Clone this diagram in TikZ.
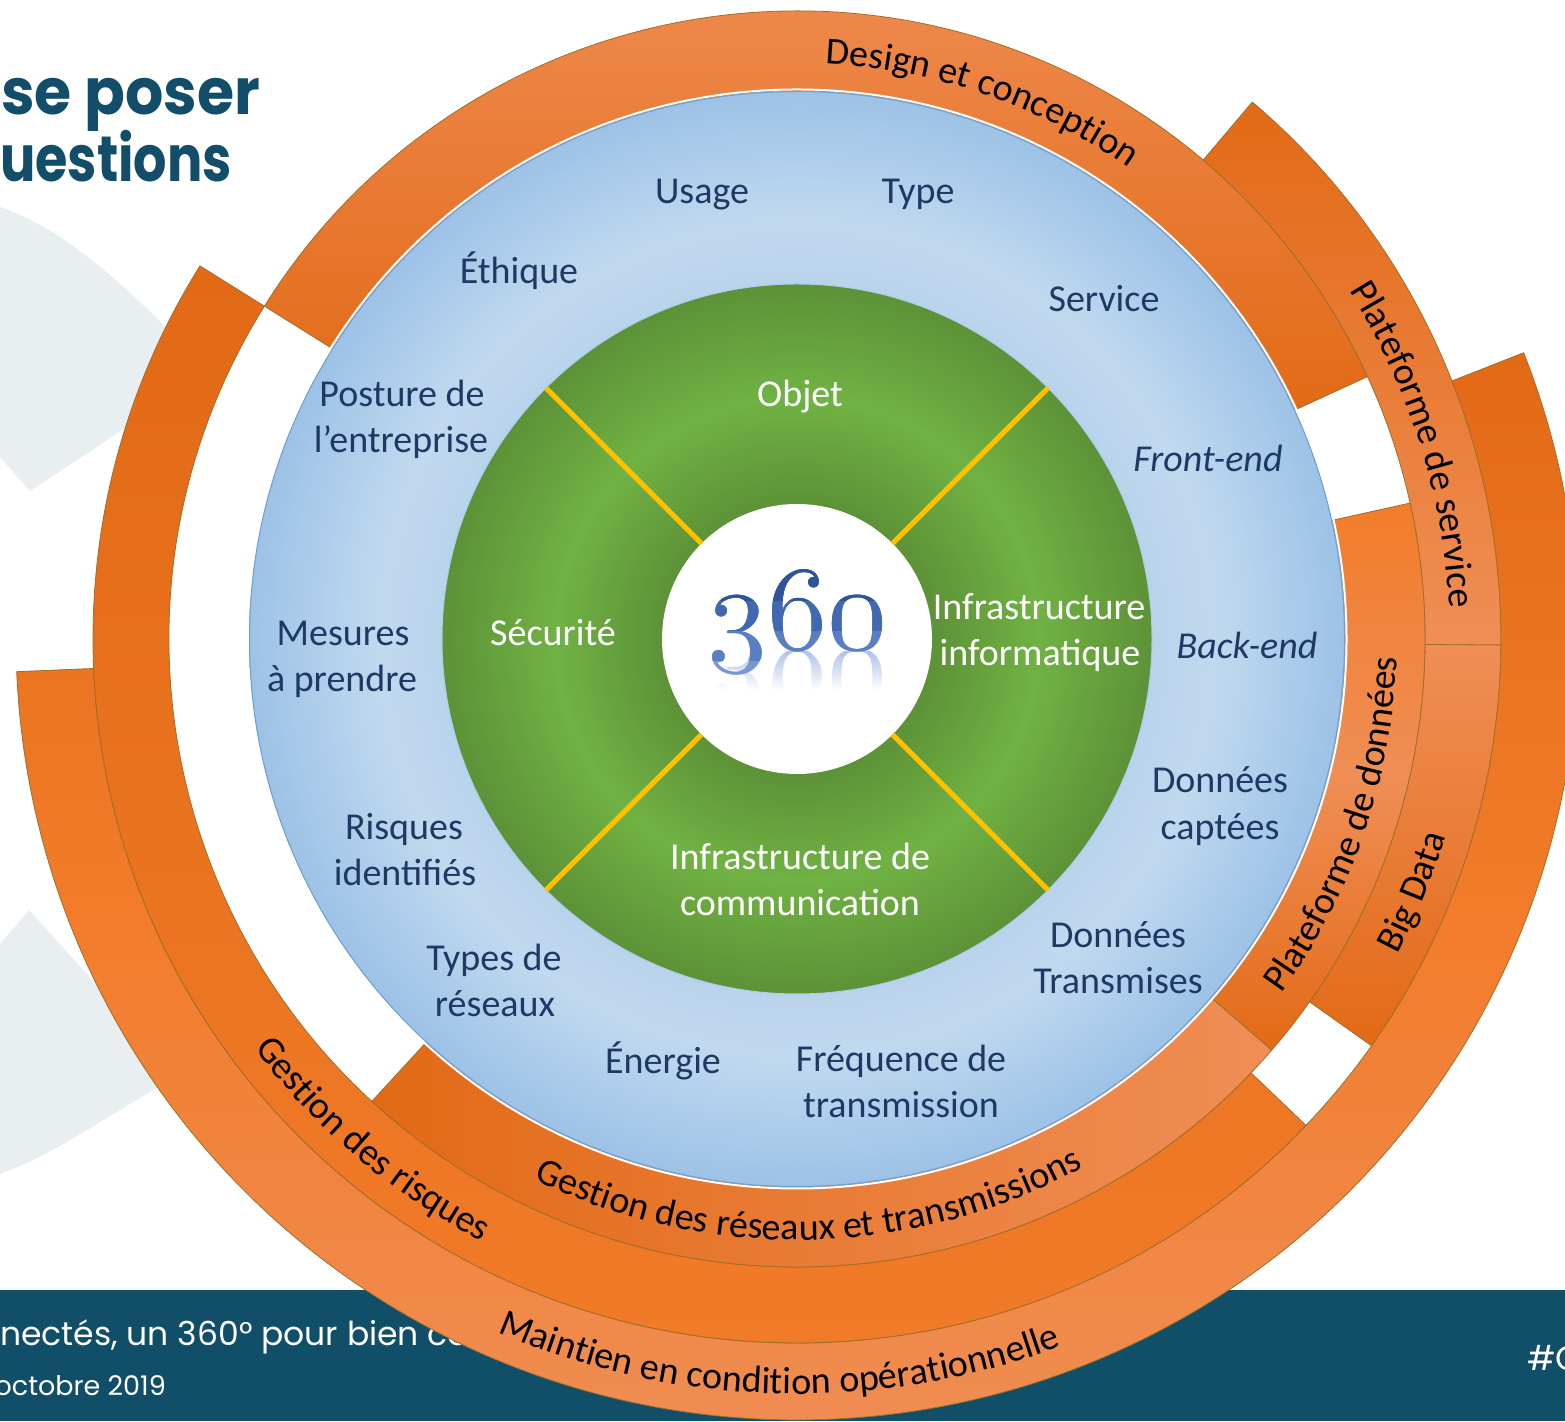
\documentclass[tikz,border=0pt]{standalone}
\usepackage{fontspec}
\newfontfamily\calib{Carlito}
\newfontfamily\popp{Poppins}
\usetikzlibrary{decorations.text,fadings}
\definecolor{od}{RGB}{226,106,22}
\definecolor{om}{RGB}{242,124,42}
\definecolor{ol}{RGB}{240,142,86}
\definecolor{bandline}{RGB}{160,110,40}
\definecolor{blueout}{RGB}{157,194,230}
\definecolor{bluein}{RGB}{185,211,236}
\definecolor{bluemid}{RGB}{193,217,239}
\definecolor{blueedge}{RGB}{110,160,215}
\definecolor{gdark}{RGB}{93,146,55}
\definecolor{glight}{RGB}{112,178,67}
\definecolor{greenedge}{RGB}{170,205,235}
\definecolor{labelnavy}{RGB}{31,56,100}
\definecolor{titleblue}{RGB}{18,78,106}
\definecolor{footerblue}{RGB}{17,79,104}
\definecolor{grayshape}{RGB}{233,238,241}
\definecolor{gold}{RGB}{255,192,0}
\definecolor{numA}{RGB}{48,84,154}
\definecolor{numB}{RGB}{66,104,178}
\definecolor{numC}{RGB}{90,126,196}
\definecolor{numD}{RGB}{120,150,212}
\definecolor{numrefl}{RGB}{175,195,232}
\pgfdeclareradialshading{bluering}{\pgfpointorigin}{color(0bp)=(bluemid); color(16.2bp)=(bluein); color(19bp)=(bluemid); color(25bp)=(blueout); color(50bp)=(blueout)}
\pgfdeclareradialshading{greenring}{\pgfpointorigin}{color(0bp)=(gdark); color(9.5bp)=(gdark); color(17bp)=(glight); color(25bp)=(gdark); color(50bp)=(gdark)}
\newcommand\bandsector[4]{(#1:#3) arc[start angle=#1, end angle=#2, radius=#3] -- (#2:#4) arc[start angle=#2, end angle=#1, radius=#4] -- cycle}
\newcommand\bandfont{\calib\fontsize{38}{46}\selectfont}
\tikzset{
  band/.style={draw=bandline, line width=0.8},
  lbl/.style={anchor=base, inner sep=0, text=labelnavy, font=\calib\fontsize{38}{46}\selectfont},
  ilbl/.style={lbl, font=\calib\itshape\fontsize{38}{46}\selectfont},
  glbl/.style={lbl, text=white},
  bandtext/.style={decorate, decoration={text along path, text={|\bandfont|#1}, text align=center}},
  divider/.style={gold, line width=5},
  numfont/.style={anchor=base, inner sep=0, font=\fontsize{10}{10}\usefont{OML}{lmm}{m}{it}, scale=12}
}
\begin{document}
\begin{tikzpicture}[x=1pt,y=1pt]
\useasboundingbox (0,0) rectangle (1565,1421);
\fill[white] (0,0) rectangle (1565,1421);
% background grey shapes
\fill[grayshape] (0,1214) .. controls (70,1190) and (130,1130) .. (200,1060) -- (200,1000) -- (150,1011) .. controls (100,975) and (60,950) .. (30,930) -- (0,964) -- cycle;
\fill[grayshape] (0,477) -- (29,511) -- (200,322) -- (160,335) .. controls (100,300) and (50,265) .. (0,247) -- cycle;
% title
\node[anchor=base west, inner sep=0, text=titleblue, font=\popp\bfseries\fontsize{64}{64}\selectfont, xscale=0.94] (title1) at (1,1306) {se poser};
\node[anchor=base west, inner sep=0, text=titleblue, font=\popp\bfseries\fontsize{64}{64}\selectfont, xscale=0.82] (title2) at (0,1239) {uestions};
% footer
\fill[footerblue] (0,0) rectangle (1565,131);
\node[anchor=base west, inner sep=0, text=white, font=\popp\fontsize{33}{33}\selectfont] (foot1) at (0,76) {nectés, un 360° pour bien con};
\node[anchor=base east, inner sep=0, text=white, font=\popp\fontsize{27}{27}\selectfont] (foot2) at (166,26) {octobre 2019};
\node[anchor=base west, inner sep=0, text=white, font=\popp\fontsize{34}{34}\selectfont] (foot3) at (1527,51) {\#C};
\begin{scope}[shift={(797,782)}]
  % orange bands
  \shade[band, top color=ol, bottom color=od] \bandsector{24.7}{148}{548}{628};
  \shade[band, top color=od, bottom color=ol] \bandsector{-0.5}{49.7}{628}{704};
  \shade[band, top color=ol, bottom color=od] \bandsector{-35.3}{-0.5}{628}{704};
  \shade[band, top color=om, bottom color=od, middle color=ol] \bandsector{-40.9}{12.5}{548}{628};
  \shade[band, top color=od, bottom color=ol, middle color=om] \bandsector{-177.6}{21.5}{704}{781};
  \shade[band, top color=od, bottom color=om] \bandsector{148}{316.3}{628}{704};
  \shade[band, left color=od, right color=ol] \bandsector{227.4}{319.1}{548}{628};
  % blue disc
  \shade[shading=bluering] (0,0) circle[radius=548];
  \draw[blueedge, line width=1] (0,0) circle[radius=547.5];
  \draw[white, line width=2] (0,0) circle[radius=549.5];
  % green ring
  \shade[shading=greenring] (0,0) circle[radius=355];
  \draw[greenedge, line width=1] (0,0) circle[radius=355];
  \fill[white] (0,0) circle[radius=135];
  \draw[divider] (45:135) -- (45:355);
  \draw[divider] (135:135) -- (135:355);
  \draw[divider] (225:135) -- (225:355);
  \draw[divider] (315:135) -- (315:355);
  % band texts
  \path[bandtext={Design et conception}] (105:576) arc[start angle=105, end angle=37, radius=576];
  \path[bandtext={Plateforme de service}] (47.5:653) arc[start angle=47.5, end angle=-12.5, radius=653];
  \path[bandtext={Plateforme de données}] (-50:600) arc[start angle=-50, end angle=12, radius=600];
  \path[bandtext={Big Data}] (-45:678) arc[start angle=-45, end angle=0.4, radius=678];
  \path[bandtext={Gestion des réseaux et transmissions}] (-125:601) arc[start angle=-125, end angle=-52.5, radius=601];
  \path[bandtext={Maintien en condition opérationnelle}] (-130:755) arc[start angle=-130, end angle=-52.9, radius=755];
  \path[bandtext={Gestion des risques}] (200:680) arc[start angle=200, end angle=259.4, radius=680];
\end{scope}
% labels in the blue ring
\node[lbl] (usage) at (702,1217) {Usage};
\node[lbl] (type) at (918,1217) {Type};
\node[lbl] (ethique) at (519,1137) {Éthique};
\node[lbl] (service) at (1104,1109) {Service};
\node[lbl] (posture1) at (402,1014) {Posture de};
\node[lbl] (posture2) at (401,968) {l’entreprise};
\node[ilbl] (frontend) at (1208,949) {Front-end};
\node[lbl] (mesures1) at (343,775) {Mesures};
\node[lbl] (mesures2) at (342,729) {à prendre};
\node[ilbl] (backend) at (1247,762) {Back-end};
\node[lbl] (captees1) at (1220,628) {Données};
\node[lbl] (captees2) at (1220,581) {captées};
\node[lbl] (risques1) at (404,581) {Risques};
\node[lbl] (risques2) at (405,535) {identifiés};
\node[lbl] (transm1) at (1118,473) {Données};
\node[lbl] (transm2) at (1118,427) {Transmises};
\node[lbl] (types1) at (494,450) {Types de};
\node[lbl] (types2) at (495,404) {réseaux};
\node[lbl] (energie) at (663,347) {Énergie};
\node[lbl] (freq1) at (901,349) {Fréquence de};
\node[lbl] (freq2) at (901,303) {transmission};
% labels in the green ring
\node[glbl] (objet) at (800,1014) {Objet};
\node[glbl] (securite) at (553,775) {Sécurité};
\node[glbl] (infoinfra1) at (1039,801) {Infrastructure};
\node[glbl] (infoinfra2) at (1040,755) {informatique};
\node[glbl] (cominfra1) at (800,551) {Infrastructure de};
\node[glbl] (cominfra2) at (800,505) {communication};
% 360 with reflection
\begin{scope}
  \clip (700,732) rectangle (895,769);
  \node[numfont, text=numrefl, yscale=-1] (refl360) at (797,769) {360};
\end{scope}
\fill[white, path fading=north] (700,731) rectangle (895,770);
\node[numfont, text=numD] (n360d) at (797,771) {360};
\begin{scope}
  \clip (690,760) rectangle (900,900);
  \node[numfont, text=numC] (n360c) at (797,771) {360};
\end{scope}
\begin{scope}
  \clip (690,790) rectangle (900,900);
  \node[numfont, text=numB] (n360b) at (797,771) {360};
\end{scope}
\begin{scope}
  \clip (690,820) rectangle (900,900);
  \node[numfont, text=numA] (n360a) at (797,771) {360};
\end{scope}
\end{tikzpicture}
\end{document}
